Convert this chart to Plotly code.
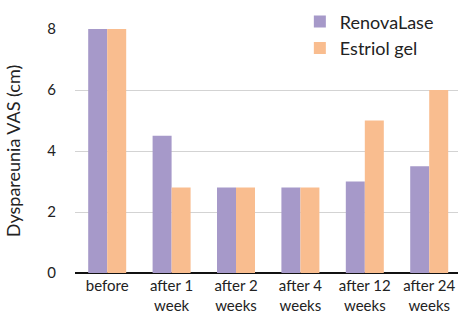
import plotly.graph_objects as go

categories = ["before", "after 1<br>week", "after 2<br>weeks", "after 4<br>weeks", "after 12<br>weeks", "after 24<br>weeks"]
renovalase = [8, 4.5, 2.8, 2.8, 3.0, 3.5]
estriol = [8, 2.8, 2.8, 2.8, 5.0, 6.0]
y_ticks = [0, 2, 4, 6, 8]

FONT = "Lato"
fig = go.Figure()
fig.add_trace(go.Bar(x=categories, y=renovalase, name="RenovaLase", marker_color="#A699C9", marker_line_width=0))
fig.add_trace(go.Bar(x=categories, y=estriol, name="Estriol gel", marker_color="#F9BD8F", marker_line_width=0))

fig.update_layout(
    width=458, height=313,
    margin=dict(l=75, r=0, t=29, b=40),
    paper_bgcolor="white", plot_bgcolor="white",
    barmode="group", bargap=0.41, bargroupgap=0,
    font=dict(family=FONT, size=14, color="#222"),
    legend=dict(x=0.95, xanchor="right", y=1.105, yanchor="top", bgcolor="white",
                font=dict(size=18, color="#222"), itemwidth=30, tracegroupgap=0),
    xaxis=dict(range=[-0.5, 5.447], showgrid=False, ticks="", tickfont=dict(size=15, color="#222"),
               showline=False, ticklabelstandoff=2, automargin=False),
    yaxis=dict(range=[0, 8], tickvals=y_ticks, showgrid=True, gridcolor="#D3D3D3", gridwidth=1,
               zeroline=True, zerolinecolor="#111", zerolinewidth=1.5, automargin=False,
               tickfont=dict(size=15, color="#222"), ticklabelstandoff=18,
               title=dict(text="Dyspareunia VAS (cm)", font=dict(size=18, color="#222"), standoff=21)),
)
fig.write_html("out.html", config={"displayModeBar": False},
               post_script="document.body.style.margin='0';document.body.style.overflow='hidden';")
